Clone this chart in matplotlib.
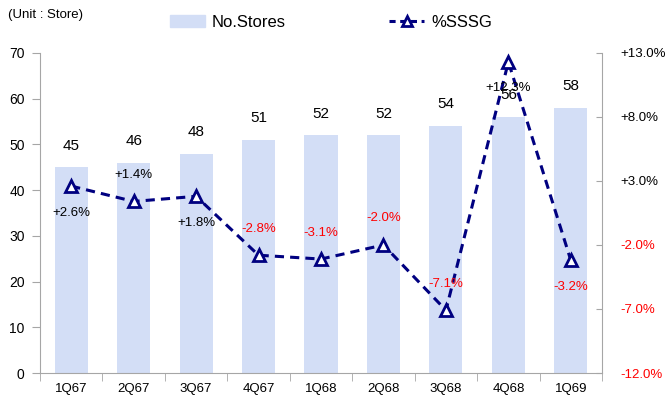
import numpy as np
import matplotlib.pyplot as plt
from matplotlib.lines import Line2D
from matplotlib.patches import Patch

plt.rcParams['font.family'] = ['Liberation Sans', 'DejaVu Sans']

quarters = ['1Q67', '2Q67', '3Q67', '4Q67', '1Q68', '2Q68', '3Q68', '4Q68', '1Q69']
stores = [45, 46, 48, 51, 52, 52, 54, 56, 58]
sssg = [2.6, 1.4, 1.8, -2.8, -3.1, -2.0, -7.1, 12.3, -3.2]
label_pos = ['below', 'above', 'below', 'above', 'above', 'above', 'above', 'below', 'below']

bar_color = '#D3DEF6'
line_color = '#000080'
spine_color = '#A6A6A6'

fig = plt.figure(figsize=(6.66, 4.07), dpi=100)
ax = fig.add_axes([0.060, 0.0835, 0.844, 0.7865])
x = np.arange(len(quarters))

ax.bar(x, stores, width=0.53, color=bar_color, zorder=1)
for xi, v in zip(x, stores):
    ax.text(xi, v + 3.2, str(v), ha='center', va='bottom', fontsize=11)

ax.set_xlim(-0.5, len(quarters) - 0.5)
ax.set_ylim(0, 70)
ax.set_yticks(range(0, 71, 10))
ax.set_xticks(x)
ax.set_xticklabels(quarters, fontsize=9.5)
ax.set_xticks(np.arange(-0.5, len(quarters)), minor=True)
ax.tick_params(axis='x', which='major', length=0, pad=7)
ax.tick_params(axis='x', which='minor', length=6, color=spine_color)
ax.tick_params(axis='y', length=6, color=spine_color, labelsize=10, pad=5)
for s in ['top', 'right']:
    ax.spines[s].set_visible(False)
for s in ['left', 'bottom']:
    ax.spines[s].set_color(spine_color)

ax2 = ax.twinx()
ax2.plot(x, sssg, color=line_color, lw=2.2, ls=(0, (3, 2)), marker='^',
         markersize=9, markerfacecolor='white', markeredgecolor=line_color,
         markeredgewidth=2, zorder=3)
ax2.set_ylim(-12, 13)
ticks = [13, 8, 3, -2, -7, -12]
ax2.set_yticks(ticks)
ax2.set_yticklabels(['%+.1f%%' % t for t in ticks], fontsize=9.5)
for lab, t in zip(ax2.get_yticklabels(), ticks):
    lab.set_color('red' if t < 0 else 'black')
ax2.tick_params(axis='y', direction='in', length=4, color=spine_color, pad=13)
for s in ['top', 'left', 'bottom']:
    ax2.spines[s].set_visible(False)
ax2.spines['right'].set_color(spine_color)

for xi, v, p in zip(x, sssg, label_pos):
    off = 1.6 if p == 'above' else -1.6
    ax2.text(xi, v + off, '%+.1f%%' % v, ha='center',
             va='bottom' if p == 'above' else 'top', fontsize=9.5,
             color='red' if v < 0 else 'black', zorder=4)

fig.text(0.012, 0.962, '(Unit : Store)', fontsize=9.5, va='center')

handles = [Patch(color=bar_color),
           Line2D([0], [0], color=line_color, lw=2.2, ls=(0, (2, 1.5)), marker='^',
                  markersize=7, markerfacecolor='white', markeredgecolor=line_color,
                  markeredgewidth=2)]
fig.legend(handles, ['No.Stores', '%SSSG'], loc='center', bbox_to_anchor=(0.497, 0.945),
           ncol=2, frameon=False, fontsize=12, columnspacing=6.2, handlelength=2.1,
           handletextpad=0.4)

fig.savefig('out.png', dpi=100)
